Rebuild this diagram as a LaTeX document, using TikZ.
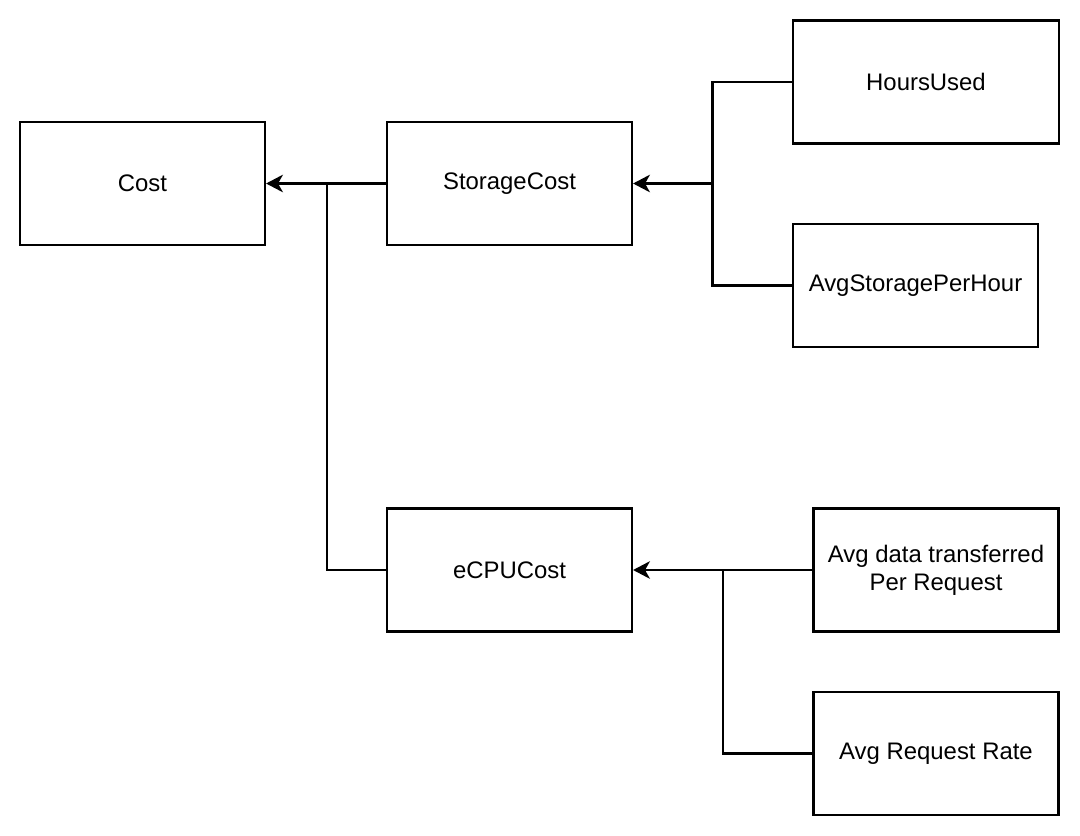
\documentclass[tikz,border=0pt]{standalone}
\usepackage{fontspec}
\setmainfont{Liberation Sans}
\usetikzlibrary{arrows.meta,positioning}

\begin{document}
\begin{tikzpicture}[x=0.025cm, y=-0.025cm, >={Stealth[length=12pt,width=12.5pt,inset=3.5pt]},
    every node/.style={font=\fontsize{17}{20}\selectfont},
    box/.style={draw, line width=1.5pt, minimum width=6.125cm, minimum height=3.075cm, align=center, inner sep=2pt},
    link/.style={line width=1.5pt}]
    \useasboundingbox (0,0) rectangle (1080,836);
    % left column
    \node[box] (cost) at (142.5,183.5) {Cost};
    \node[box] (storage) at (509.5,183.5) {StorageCost};
    \node[box] (ecpu) at (509.5,570) {eCPUCost};
    % inputs
    \node[box, minimum width=6.65cm] (hours) at (926,82) {HoursUsed};
    \node[box] (avgstore) at (915.5,285.5) {AvgStoragePerHour};
    \node[box] (avgdata) at (936,570) {Avg data transferred\\Per Request};
    \node[box] (avgrate) at (936,753.5) {Avg Request Rate};
    % junctions
    \coordinate (jcost) at (327,183.5);
    \coordinate (jstore) at (712.5,183.5);
    \coordinate (jcpu) at (723,570);
    \draw[link, ->] (storage.west) -- (cost.east);
    \draw[link] (ecpu.west) -| (jcost);
    \draw[link] (hours.west) -| (jstore);
    \draw[link] (avgstore.west) -| (jstore);
    \draw[link, ->] (jstore) -- (storage.east);
    \draw[link, ->] (avgdata.west) -- (ecpu.east);
    \draw[link] (avgrate.west) -| (jcpu);
\end{tikzpicture}
\end{document}
